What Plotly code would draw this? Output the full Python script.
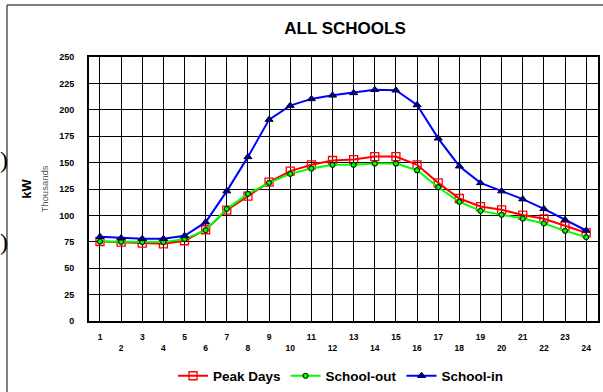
import plotly.graph_objects as go

hours = list(range(1, 25))
tick_labels = [str(h) if h % 2 == 1 else "<br>" + str(h) for h in hours]
peak_days = [75.3, 74.7, 73.8, 73.1, 76.0, 86.4, 105.0, 118.2, 131.5, 141.9, 147.9, 152.0,
             152.9, 155.7, 155.7, 147.9, 130.8, 116.0, 108.4, 105.3, 100.3, 96.8, 89.8, 83.5]
school_out = [75.3, 75.0, 74.7, 74.7, 77.6, 86.0, 106.2, 120.4, 130.8, 139.3, 144.4, 147.9,
              147.9, 149.1, 149.1, 142.8, 126.7, 112.9, 104.3, 100.6, 97.1, 92.4, 85.4, 79.4]
school_in = [79.8, 78.5, 77.9, 77.9, 80.7, 93.6, 123.0, 155.4, 190.7, 204.0, 210.3, 213.7,
             216.0, 219.0, 218.5, 204.6, 173.0, 146.6, 130.8, 123.0, 115.4, 106.2, 95.8, 85.7]
y_ticks = list(range(0, 251, 25))

FONT = "Arial, Liberation Sans, sans-serif"

fig = go.Figure()
fig.add_trace(go.Scatter(x=hours, y=peak_days, name="Peak Days", mode="lines+markers",
                         line=dict(color="#ff0000", width=2),
                         marker=dict(symbol="square-open", size=8, color="#ff0000",
                                     line=dict(width=1.3, color="#ff0000"))))
fig.add_trace(go.Scatter(x=hours, y=school_out, name="School-out", mode="lines+markers",
                         line=dict(color="#00ff00", width=2),
                         marker=dict(symbol="circle", size=5, color="#00ff00",
                                     line=dict(width=1.2, color="#003300"))))
fig.add_trace(go.Scatter(x=hours, y=school_in, name="School-in", mode="lines+markers",
                         line=dict(color="#0000ff", width=2),
                         marker=dict(symbol="triangle-up", size=7, color="#000080",
                                     line=dict(width=1, color="#000040"))))

# plot area pixel geometry
L, R, T, B = 89, 598, 57, 321
W, H = 603, 392
pw, ph = R - L, B - T

def px(x):
    return (x - L) / pw

def py(y):
    return (B - y) / ph

shapes = [
    dict(type="line", xref="paper", yref="paper", x0=px(7), x1=px(603), y0=py(5), y1=py(5),
         line=dict(color="#555555", width=1.5)),
    dict(type="line", xref="paper", yref="paper", x0=px(7), x1=px(7), y0=py(5), y1=py(392),
         line=dict(color="#555555", width=1.5)),
]

annotations = [
    dict(text=")", xref="paper", yref="paper", x=px(-2), y=py(160), xanchor="left",
         yanchor="middle", showarrow=False, font=dict(family="Liberation Serif, serif", size=24, color="#000")),
    dict(text=")", xref="paper", yref="paper", x=px(-2), y=py(242), xanchor="left",
         yanchor="middle", showarrow=False, font=dict(family="Liberation Serif, serif", size=24, color="#000")),
]

fig.update_layout(
    width=W, height=H,
    margin=dict(l=L, r=W - R, t=T, b=H - B, autoexpand=False),
    paper_bgcolor="white", plot_bgcolor="white",
    font=dict(family=FONT, color="black"),
    title=dict(text="<b>ALL SCHOOLS</b>", xref="container", x=345 / W, xanchor="center",
               yref="container", y=1 - 28 / H, yanchor="middle", font=dict(size=17, family=FONT)),
    showlegend=True,
    legend=dict(orientation="h", x=px(341), xanchor="center", y=py(376), yanchor="middle",
                font=dict(size=13.5, family=FONT, weight="bold"), itemwidth=30,
                bgcolor="rgba(0,0,0,0)"),
    shapes=shapes,
    annotations=annotations,
    xaxis=dict(range=[0.48, 24.56], tickmode="array", tickvals=hours, ticktext=tick_labels,
               showgrid=True, gridcolor="black", gridwidth=1, zeroline=False,
               showline=True, linecolor="black", linewidth=2, mirror=True, automargin=False,
               ticks="", tickfont=dict(size=8.5, family=FONT, weight="bold"),
               ticklabelstandoff=7),
    yaxis=dict(range=[0, 250], tickmode="array", tickvals=y_ticks,
               showgrid=True, gridcolor="black", gridwidth=1, zeroline=False,
               showline=True, linecolor="black", linewidth=2, mirror=True, automargin=False,
               ticks="", tickfont=dict(size=9, family=FONT, weight="bold"),
               ticklabelstandoff=11,
               title=dict(text="<b>kW</b><br><span style='font-size:9.5px;color:#555555'>Thousands</span>",
                          font=dict(size=13, family=FONT), standoff=8)),
)

fig.write_html("out.html", config={"displayModeBar": False},
               post_script="document.body.style.margin='0';document.body.style.overflow='hidden';")
